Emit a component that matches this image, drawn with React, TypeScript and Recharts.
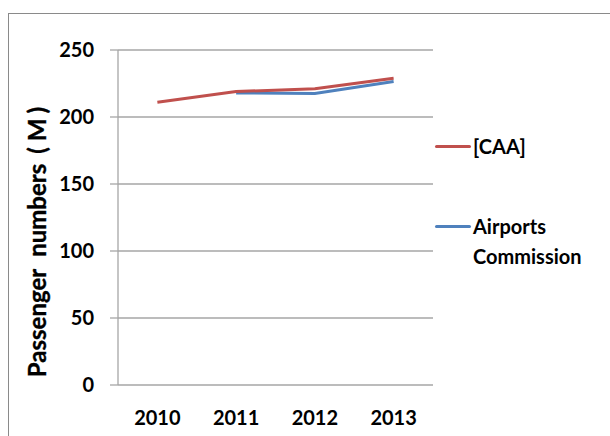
import { CartesianGrid, Legend, Line, LineChart, XAxis, YAxis } from 'recharts';

const years = ['2010', '2011', '2012', '2013'];
const caaValues = [211, 219, 221, 229];
const commissionValues: (number | null)[] = [null, 218, 217.5, 226.5];
const yTicks = [0, 50, 100, 150, 200, 250];
const seriesNames = ['[CAA]', 'Airports Commission'];

const data = years.map((year, i) => ({
  i,
  year,
  caa: caaValues[i],
  commission: commissionValues[i],
}));

const labelTicks = years.map((_, i) => i);
const boundaryTicks = [...years.map((_, i) => i - 0.5), years.length - 0.5];

const FONT = 'Lato, "Open Sans", sans-serif';

function AxisTitle(props: any) {
  const { viewBox } = props;
  const x = viewBox.x + 36;
  const y = 242;
  return (
    <text
      x={x}
      y={y}
      transform={`rotate(-90, ${x}, ${y})`}
      textAnchor="middle"
      dominantBaseline="central"
      fill="#000"
      stroke="#000"
      strokeWidth={0.35}
      style={{ fontFamily: FONT, fontWeight: 700, fontSize: 24 }}
    >
      <tspan>Passenger</tspan>
      <tspan dx={12}>numbers</tspan>
      <tspan dx={10}>(</tspan>
      <tspan dx={6}>M</tspan>
      <tspan dx={5}>)</tspan>
    </text>
  );
}

function LegendBox(props: any) {
  const { payload } = props;
  const entries = [...(payload || [])].sort(
    (a: any, b: any) => seriesNames.indexOf(a.value) - seriesNames.indexOf(b.value),
  );
  return (
    <div style={{ fontFamily: FONT, fontWeight: 700, fontSize: 20, color: '#000' }}>
      {entries.map((entry: any, idx: number) => (
        <div
          key={entry.value}
          style={{ display: 'flex', alignItems: 'flex-start', marginTop: idx === 0 ? 0 : 50 }}
        >
          <div style={{ width: 36, height: 30, marginLeft: 2, marginRight: 2, position: 'relative' }}>
            <div
              style={{
                position: 'absolute',
                top: 13.5,
                left: 0,
                width: 36,
                height: 3,
                borderRadius: 1.5,
                background: entry.color,
              }}
            />
          </div>
          <div style={{ lineHeight: '30px', width: 125 }}>{entry.value}</div>
        </div>
      ))}
    </div>
  );
}

export default function App() {
  return (
    <div
      style={{
        position: 'absolute',
        left: 0,
        top: 0,
        width: 610,
        height: 436,
        overflow: 'hidden',
        background: '#fff',
      }}
    >
      <div
        style={{
          position: 'absolute',
          left: 8,
          top: 13,
          width: 700,
          height: 500,
          border: '1px solid #8a8a8a',
        }}
      />
      <div style={{ position: 'absolute', left: 0, top: 0 }}>
        <LineChart width={610} height={436} data={data} margin={{ top: 50, right: 0, bottom: 0, left: 0 }}>
          <CartesianGrid horizontal vertical={false} stroke="#a6a6a6" strokeWidth={1.3} />
          <XAxis
            xAxisId="marks"
            dataKey="i"
            type="number"
            domain={[-0.5, years.length - 0.5]}
            ticks={boundaryTicks}
            interval={0}
            height={0}
            tick={false}
            tickSize={8}
            tickLine={{ stroke: '#a6a6a6', strokeWidth: 1.3 }}
            axisLine={{ stroke: '#a6a6a6', strokeWidth: 1.3 }}
          />
          <XAxis
            xAxisId="labels"
            dataKey="i"
            type="number"
            domain={[-0.5, years.length - 0.5]}
            ticks={labelTicks}
            interval={0}
            height={51}
            tickLine={false}
            axisLine={false}
            tickSize={8}
            tickMargin={18}
            tickFormatter={(v: number) => years[v]}
            tick={{ fill: '#000', fontFamily: FONT, fontWeight: 700, fontSize: 20 }}
          />
          <YAxis
            width={118}
            domain={[0, 250]}
            ticks={yTicks}
            interval={0}
            tickSize={8}
            tickMargin={16}
            tickLine={{ stroke: '#a6a6a6', strokeWidth: 1.3 }}
            axisLine={{ stroke: '#a6a6a6', strokeWidth: 1.3 }}
            tick={{ fill: '#000', fontFamily: FONT, fontWeight: 700, fontSize: 20 }}
            label={<AxisTitle />}
          />
          <Legend
            layout="vertical"
            align="right"
            verticalAlign="top"
            width={177}
            wrapperStyle={{ top: 131, left: 433, width: 177 }}
            content={<LegendBox />}
          />
          <Line
            xAxisId="marks"
            dataKey="commission"
            name={seriesNames[1]}
            stroke="#4F81BD"
            strokeWidth={3}
            dot={false}
            isAnimationActive={false}
            legendType="line"
          />
          <Line
            xAxisId="marks"
            dataKey="caa"
            name={seriesNames[0]}
            stroke="#C0504D"
            strokeWidth={3}
            dot={false}
            isAnimationActive={false}
            legendType="line"
          />
        </LineChart>
      </div>
    </div>
  );
}
